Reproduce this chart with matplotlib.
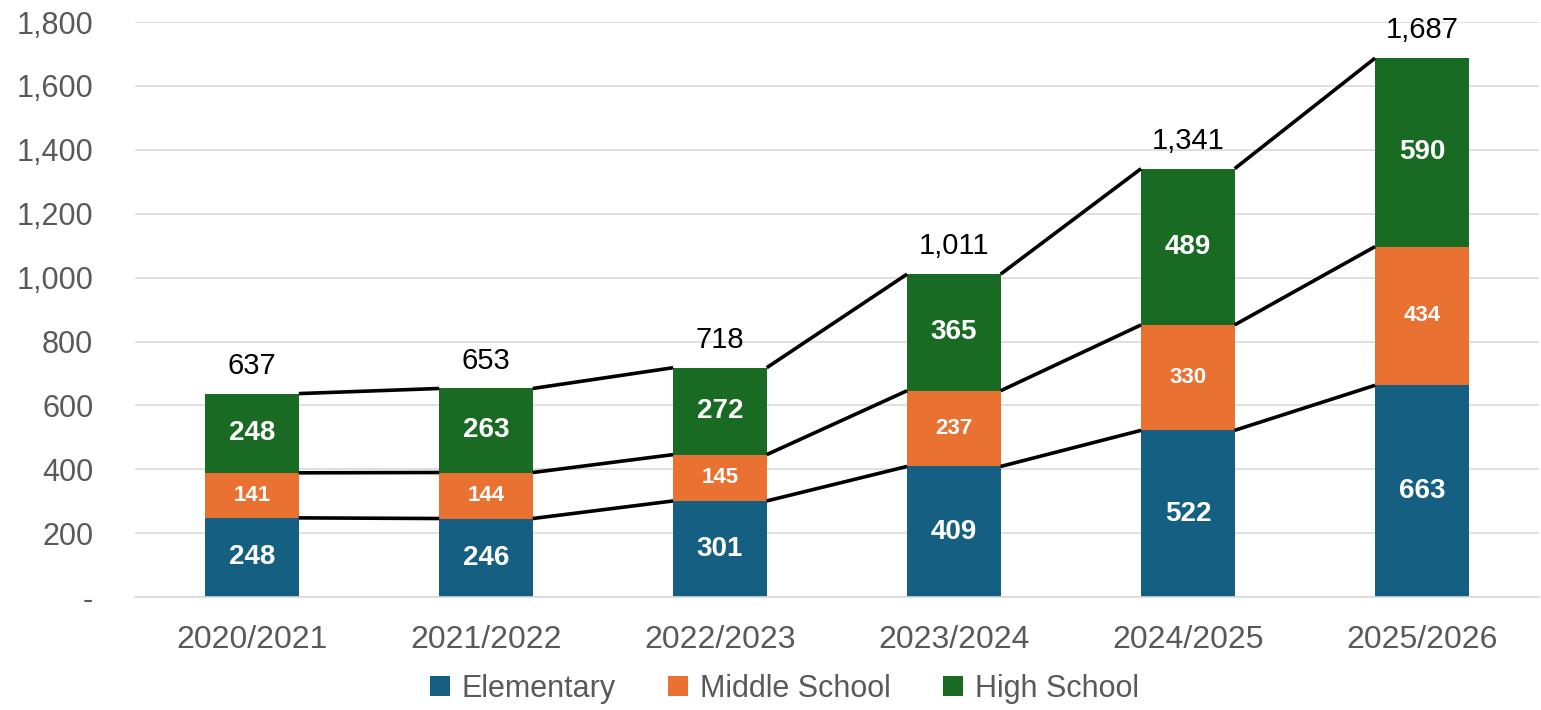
import numpy as np
import matplotlib.pyplot as plt
from matplotlib.ticker import FuncFormatter

plt.rcParams['font.family'] = ['Liberation Sans', 'DejaVu Sans']

# Data
years = ['2020/2021', '2021/2022', '2022/2023', '2023/2024', '2024/2025', '2025/2026']
elementary = [248, 246, 301, 409, 522, 663]
middle = [141, 144, 145, 237, 330, 434]
high = [248, 263, 272, 365, 489, 590]
totals = [637, 653, 718, 1011, 1341, 1687]

series_names = ['Elementary', 'Middle School', 'High School']
colors = ['#156082', '#E97132', '#196B24']
label_sizes = [20, 16, 20]

fig = plt.figure(figsize=(15.41, 7.1), dpi=100)
ax = fig.add_axes([0.0876, 0.159, 0.911, 0.81])

x = np.arange(len(years))
width = 0.4
bottom = np.zeros(len(years))
tops = []
for vals, name, col, fs in zip([elementary, middle, high], series_names, colors, label_sizes):
    vals = np.array(vals)
    ax.bar(x, vals, width, bottom=bottom, color=col, label=name, zorder=2)
    for xi, b, v in zip(x, bottom, vals):
        ax.text(xi, b + v / 2, str(v), ha='center', va='center', color='white',
                fontsize=fs, fontweight='bold', zorder=4)
    bottom = bottom + vals
    tops.append(bottom.copy())

# Series lines between adjacent bars
for level in tops:
    for i in range(len(years) - 1):
        ax.plot([x[i] + width / 2, x[i + 1] - width / 2], [level[i], level[i + 1]],
                color='black', lw=2.6, zorder=3, solid_capstyle='butt')

# Totals above bars
for xi, t in zip(x, totals):
    ax.annotate(f'{t:,}', (xi, t), xytext=(0, 20), textcoords='offset points',
                ha='center', va='center', fontsize=21, color='black')

ax.set_xlim(-0.5, len(years) - 0.5)
ax.set_ylim(0, 1800)
ax.set_yticks(np.arange(0, 1801, 200))
ax.yaxis.set_major_formatter(FuncFormatter(lambda v, p: '-' if v == 0 else f'{int(v):,}'))
ax.set_xticks(x)
ax.set_xticklabels(years)
ax.tick_params(axis='both', length=0, colors='#595959')
ax.tick_params(axis='x', pad=20, labelsize=23)
ax.tick_params(axis='y', pad=30, labelsize=22)
ax.grid(axis='y', color='#D9D9D9', lw=1.2, zorder=0)
for s in ['top', 'right', 'left']:
    ax.spines[s].set_visible(False)
ax.spines['bottom'].set_color('#D9D9D9')
ax.spines['bottom'].set_linewidth(1.2)

leg = fig.legend(*ax.get_legend_handles_labels(), loc='center', bbox_to_anchor=(0.509, 0.03),
                 ncol=3, frameon=False, fontsize=22, handlelength=0.65, handleheight=0.65,
                 handletextpad=0.4, columnspacing=1.7, labelcolor='#595959',
                 borderpad=0, borderaxespad=0)

fig.savefig('out.png', dpi=100)
